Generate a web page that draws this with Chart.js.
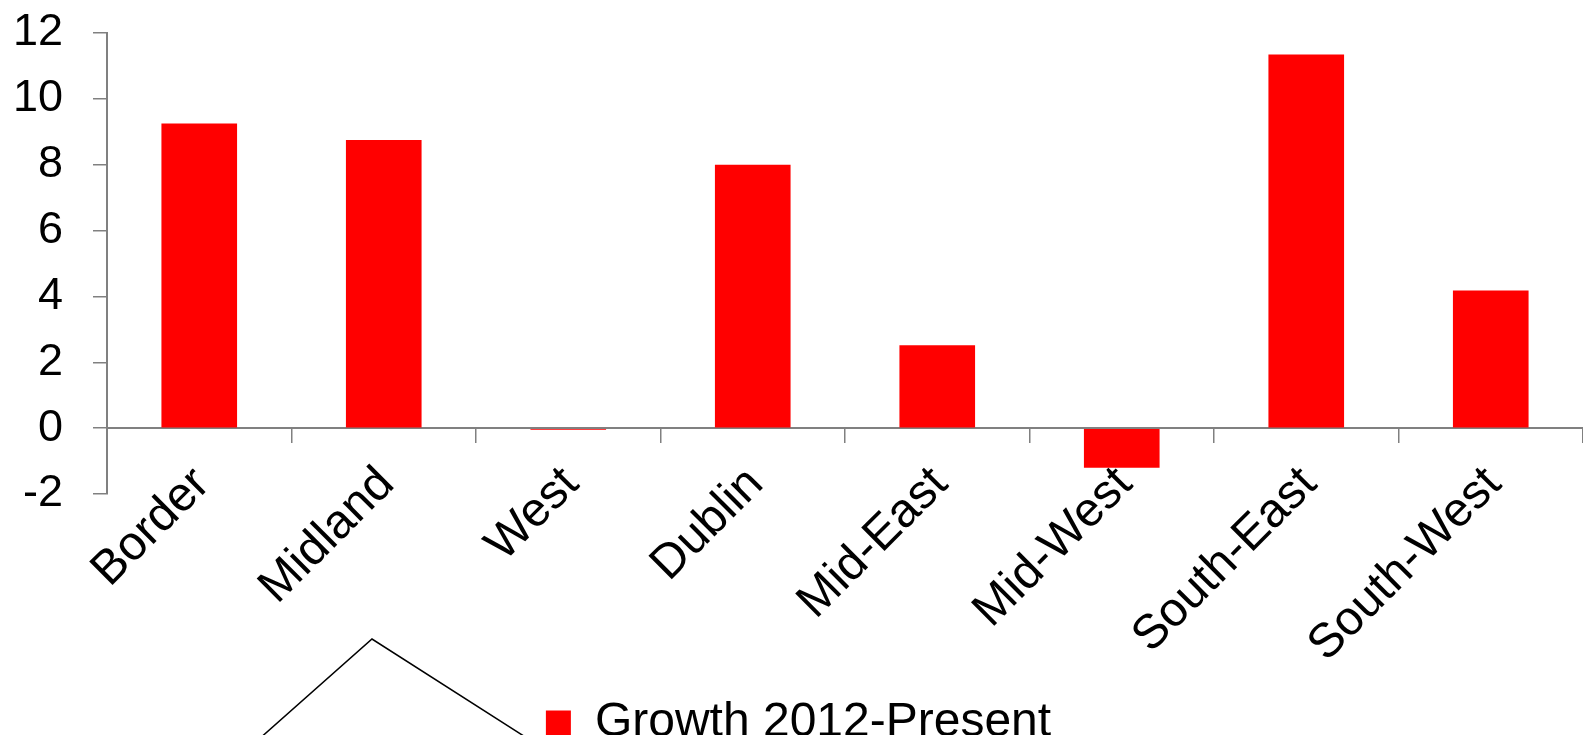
<!DOCTYPE html>
<html>
<head>
<meta charset="utf-8">
<script src="https://cdn.jsdelivr.net/npm/chart.js"></script>
<style>
  html, body { margin: 0; padding: 0; background: #fff; overflow: hidden; }
  #wrap { width: 1583px; height: 735px; position: relative; }
</style>
</head>
<body>
<div id="wrap"><canvas id="chart"></canvas></div>
<script>
// regions and growth (%)
const regions = ['Border', 'Midland', 'West', 'Dublin', 'Mid-East', 'Mid-West', 'South-East', 'South-West'];
const growth = [9.25, 8.75, -0.05, 8.0, 2.52, -1.2, 11.35, 4.18];
const seriesName = 'Growth 2012-Present';
const yMin = -2, yMax = 12, yStep = 2;

const FONT = "'Liberation Sans', Arial, sans-serif";
const axisGrey = '#808080';

// the stray line shape under the labels (not data)
const strayShape = {
    id: 'strayShape',
    afterDraw(chart) {
        const c = chart.ctx;
        c.save();
        c.strokeStyle = '#000';
        c.lineWidth = 1.5;
        c.beginPath();
        c.moveTo(258, 740);
        c.lineTo(372, 639);
        c.lineTo(530, 740);
        c.stroke();
        c.restore();
    }
};

new Chart(document.getElementById('chart'), {
    type: 'bar',
    data: {
        labels: regions,
        datasets: [{
            label: seriesName,
            data: growth,
            backgroundColor: '#ff0000',
            borderWidth: 0,
            barPercentage: 0.41,
            categoryPercentage: 1.0
        }]
    },
    options: {
        responsive: true,
        maintainAspectRatio: false,
        animation: false,
        layout: { padding: { top: 0, left: 14, right: 0, bottom: -22 } },
        plugins: {
            legend: {
                position: 'bottom',
                labels: {
                    color: '#000',
                    font: { family: FONT, size: 48 },
                    boxWidth: 25,
                    boxHeight: 25,
                    padding: 0
                }
            },
            tooltip: { enabled: false }
        },
        scales: {
            // category axis crossing at zero, labels hang under it
            x: {
                position: { y: 0 },
                offset: true,
                grid: {
                    offset: true,
                    drawOnChartArea: false,
                    tickLength: 14,
                    color: axisGrey,
                    lineWidth: 1.5
                },
                border: { color: axisGrey, width: 2 },
                ticks: {
                    color: '#000',
                    font: { family: FONT, size: 48 },
                    maxRotation: 45,
                    minRotation: 45,
                    autoSkip: false,
                    padding: 14,
                    labelOffset: 3
                },
                afterFit: (s) => { s.height = 0; s.paddingLeft = 0; s.paddingRight = 0; }
            },
            // keeps the room under the plot for those labels
            xRoom: {
                type: 'category',
                position: 'bottom',
                grid: { display: false },
                border: { display: false },
                ticks: { display: false },
                afterFit: (s) => { s.height = 205; s.paddingLeft = 0; s.paddingRight = 0; }
            },
            y: {
                min: yMin,
                max: yMax,
                grid: {
                    drawOnChartArea: false,
                    tickLength: 14,
                    color: axisGrey,
                    lineWidth: 1.5
                },
                border: { color: axisGrey, width: 2 },
                ticks: {
                    stepSize: yStep,
                    color: '#000',
                    font: { family: FONT, size: 45 },
                    padding: 30
                },
                afterFit: (s) => { s.width = 93; s.paddingTop = 33; s.paddingBottom = 10; }
            }
        }
    },
    plugins: [strayShape]
});
</script>
</body>
</html>
